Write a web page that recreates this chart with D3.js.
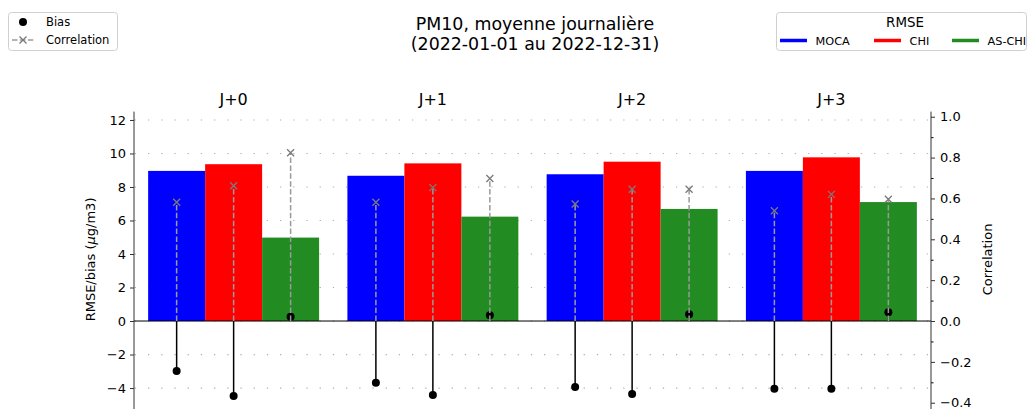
<!DOCTYPE html>
<html><head><meta charset="utf-8">
<script src="https://cdn.jsdelivr.net/npm/d3@7"></script>
<style>body{margin:0;background:#fff}svg{font-family:"DejaVu Sans",sans-serif}</style>
</head><body><svg id="c" width="1028" height="409"></svg>
<script>
const leads = ["J+0","J+1","J+2","J+3"];
const models = ["MOCA","CHI","AS-CHI"];
const colors = ["#0000ff","#ff0000","#228b22"];
const rmse = [[8.96,9.36,4.98],[8.67,9.41,6.23],[8.76,9.51,6.69],[8.96,9.77,7.10]];
const bias = [[-2.99,-4.48,0.26],[-3.68,-4.42,0.34],[-3.94,-4.36,0.40],[-4.04,-4.04,0.52]];
const corr = [[0.581,0.662,0.824],[0.581,0.653,0.698],[0.573,0.645,0.645],[0.540,0.620,0.596]];
const leftTicks = [-4,-2,0,2,4,6,8,10,12];
const rightTicks = [-0.4,-0.2,0.0,0.2,0.4,0.6,0.8,1.0];
const rightMinor = [-0.3,-0.1,0.1,0.3,0.5,0.7,0.9];

const svg = d3.select("#c");
const L = 134, R = 931, T = 111.6, B = 407.3;
const x = d3.scaleLinear().domain([-0.5,3.5]).range([L,R]);
const y = d3.scaleLinear().domain([-5.15,12.5]).range([B,T]);
const y0px = y(0);
const yr = d3.scaleLinear().domain([-(B-y0px)/204.3,(y0px-T)/204.3]).range([B,T]);
const bw = 0.286;
const fmtMinus = s => s.replace("-","\u2212");

// grid
svg.append("g").selectAll("line").data(leftTicks).join("line")
  .attr("x1",L).attr("x2",R).attr("y1",d=>y(d)).attr("y2",d=>y(d))
  .attr("stroke","#b0b0b0").attr("stroke-width",1.2).attr("stroke-dasharray","1.3,11.9")
  .attr("stroke-dashoffset",-14);

// bars
const g = svg.append("g");
leads.forEach((l,i)=>{
  models.forEach((m,j)=>{
    const cx = i + (j-1)*bw;
    g.append("rect").attr("x",x(cx-bw/2)).attr("width",x(bw)-x(0))
      .attr("y",y(rmse[i][j])).attr("height",y(0)-y(rmse[i][j])).attr("fill",colors[j]);
  });
});
// zero line
svg.append("line").attr("x1",L).attr("x2",R).attr("y1",y0px).attr("y2",y0px).attr("stroke","#000").attr("stroke-width",1);

// bias stems
leads.forEach((l,i)=>{
  models.forEach((m,j)=>{
    const cx = x(i + (j-1)*bw);
    svg.append("line").attr("x1",cx).attr("x2",cx).attr("y1",y(0)).attr("y2",y(bias[i][j]))
      .attr("stroke","#000").attr("stroke-width",1.5);
    svg.append("circle").attr("cx",cx).attr("cy",y(bias[i][j])).attr("r",4).attr("fill","#000");
  });
});
// correlation stems
leads.forEach((l,i)=>{
  models.forEach((m,j)=>{
    const cx = x(i + (j-1)*bw);
    const cy = yr(corr[i][j]);
    svg.append("line").attr("x1",cx).attr("x2",cx).attr("y1",yr(0)).attr("y2",cy)
      .attr("stroke","#9a9a9a").attr("stroke-width",1.5).attr("stroke-dasharray","5.5,2.4");
    const s=3.5;
    svg.append("path").attr("d",`M${cx-s},${cy-s}L${cx+s},${cy+s}M${cx-s},${cy+s}L${cx+s},${cy-s}`)
      .attr("stroke","#7a7a7a").attr("stroke-width",1.3).attr("fill","none");
  });
});

// axes
const la = svg.append("g").attr("transform",`translate(${L},0)`)
  .call(d3.axisLeft(y).tickValues(leftTicks).tickSize(4).tickPadding(4).tickFormat(d=>fmtMinus(String(d))));
const ra = svg.append("g").attr("transform",`translate(${R},0)`)
  .call(d3.axisRight(yr).tickValues(rightTicks).tickSize(4).tickPadding(5).tickFormat(d=>fmtMinus(d3.format(".1f")(d))));
svg.append("g").attr("transform",`translate(${R},0)`)
  .call(d3.axisRight(yr).tickValues(rightMinor).tickSize(2.5).tickFormat(""))
  .select(".domain").remove();
[la,ra].forEach(a=>{
  a.select(".domain").remove();
  a.selectAll("text").attr("font-size",13).attr("fill","#000").attr("font-family","DejaVu Sans");
  a.selectAll("line").attr("stroke","#333");
});
svg.append("line").attr("x1",L).attr("x2",L).attr("y1",T).attr("y2",409).attr("stroke","#333").attr("stroke-width",1);
svg.append("line").attr("x1",R).attr("x2",R).attr("y1",T).attr("y2",409).attr("stroke","#333").attr("stroke-width",1);

// group titles
svg.append("g").selectAll("text").data(leads).join("text")
  .attr("x",(d,i)=>x(i)).attr("y",105).attr("text-anchor","middle").attr("font-size",16).text(d=>d);

// axis labels
const yl = svg.append("text").attr("transform",`translate(95,${(T+B)/2}) rotate(-90)`)
  .attr("text-anchor","middle").attr("font-size",13);
yl.append("tspan").text("RMSE/bias (");
yl.append("tspan").attr("font-style","italic").text("\u03bc");
yl.append("tspan").text("g/m3)");
svg.append("text").attr("transform",`translate(992,${(T+B)/2}) rotate(-90)`)
  .attr("text-anchor","middle").attr("font-size",13).text("Correlation");

// title
svg.append("text").attr("x",535).attr("y",29.5).attr("text-anchor","middle").attr("font-size",17.4).text("PM10, moyenne journalière");
svg.append("text").attr("x",535).attr("y",50).attr("text-anchor","middle").attr("font-size",17.4).text("(2022-01-01 au 2022-12-31)");

// left legend
const lg = svg.append("g");
lg.append("rect").attr("x",8.5).attr("y",12.5).attr("width",109).attr("height",38).attr("rx",3)
  .attr("fill","#fff").attr("stroke","#d0d0d0");
lg.append("circle").attr("cx",23).attr("cy",22).attr("r",4).attr("fill","#000");
lg.append("text").attr("x",46).attr("y",26).attr("font-size",11.5).text("Bias");
lg.append("line").attr("x1",12).attr("x2",34).attr("y1",40).attr("y2",40).attr("stroke","#9a9a9a").attr("stroke-width",1.5).attr("stroke-dasharray","5.5,2.4");
lg.append("path").attr("d","M19.5,36.5L26.5,43.5M19.5,43.5L26.5,36.5").attr("stroke","#7a7a7a").attr("stroke-width",1.3);
lg.append("text").attr("x",46).attr("y",44).attr("font-size",11.5).text("Correlation");

// right legend
const rg = svg.append("g");
rg.append("rect").attr("x",776.5).attr("y",12.5).attr("width",250).attr("height",38).attr("rx",3)
  .attr("fill","#fff").attr("stroke","#d0d0d0");
rg.append("text").attr("x",905).attr("y",27).attr("text-anchor","middle").attr("font-size",13.4).text("RMSE");
const lx = [780,874,952];
models.forEach((m,j)=>{
  rg.append("line").attr("x1",lx[j]).attr("x2",lx[j]+27).attr("y1",40.5).attr("y2",40.5).attr("stroke",colors[j]).attr("stroke-width",3.5);
  rg.append("text").attr("x",lx[j]+35.5).attr("y",44.8).attr("font-size",11.3).text(m);
});
</script></body></html>
